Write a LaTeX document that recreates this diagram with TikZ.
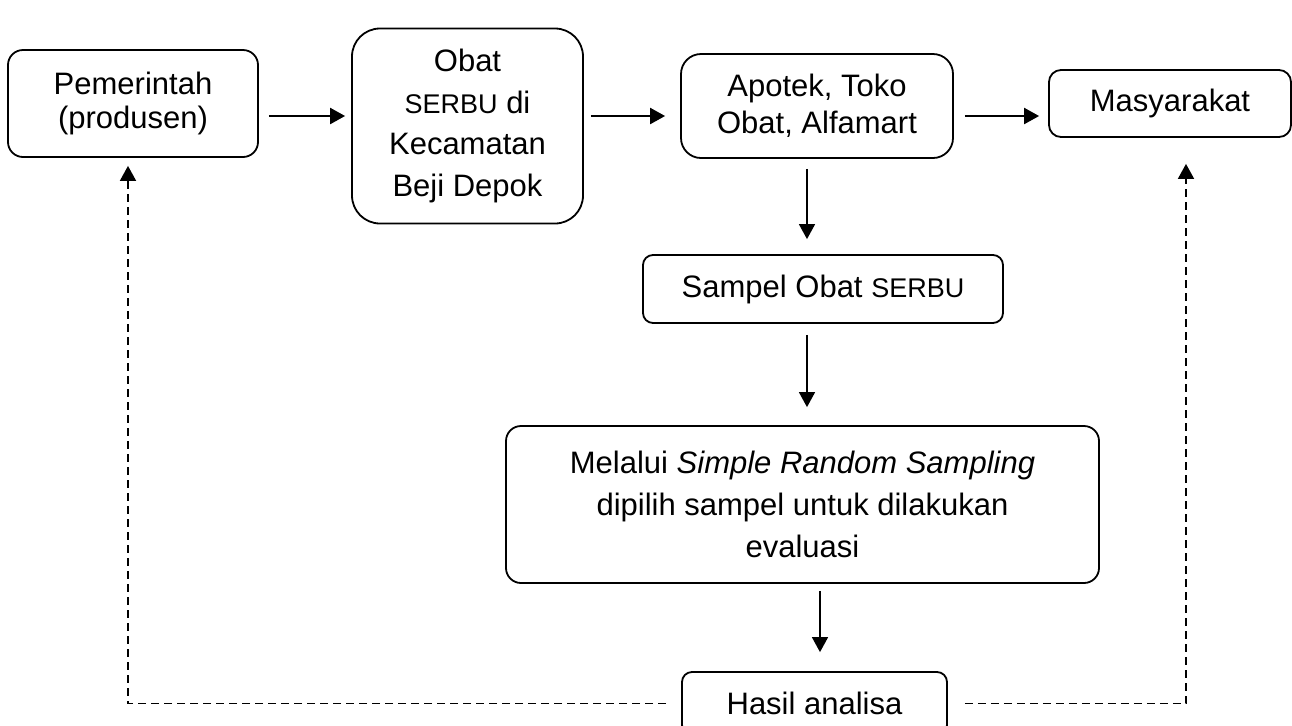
\documentclass[tikz,border=0pt]{standalone}
\usepackage{fontspec}
\setmainfont{Liberation Sans}
\usetikzlibrary{arrows.meta, positioning}

\newcommand{\boxfont}[1]{\fontsize{15.5}{#1}\selectfont}
\newcommand{\serbu}{{\fontsize{13.5}{16}\selectfont SERBU}}

\tikzset{
  box/.style={draw, line width=0.9pt, align=center, inner sep=0pt},
  arr/.style={-{Triangle[length=7.5pt,width=8pt]}, line width=0.75pt,
    shorten <=5pt, shorten >=7pt},
  harr/.style={arr, line width=1.1pt},
  feedback/.style={-{Triangle[length=7.5pt,width=8pt]}, line width=0.9pt,
    dash pattern=on 4pt off 2.5pt}
}

\begin{document}
\begin{tikzpicture}[x=0.5pt, y=-0.5pt]
    \clip (0,0) rectangle (1292,725);

    % Top row
    \node[box, rounded corners=7.5pt, minimum width=125pt, minimum height=53.5pt,
      font=\boxfont{17}] (pem) at (133,103.5) {Pemerintah\\(produsen)};
    \node[box, rounded corners=14pt, minimum width=115.5pt, minimum height=97.5pt,
      font=\boxfont{20.8}] (obat) at (467.5,126) {Obat\\\serbu{} di\\Kecamatan\\Beji Depok};
    \node[box, rounded corners=10pt, minimum width=136pt, minimum height=52pt,
      font=\boxfont{18.3}] (apotek) at (817,106) {Apotek, Toko\\Obat, Alfamart};
    \node[box, rounded corners=6pt, minimum width=121pt, minimum height=33.5pt,
      font=\boxfont{18}] (masy) at (1170,103.5) {Masyarakat};

    % Sampling chain
    \node[box, rounded corners=5pt, minimum width=180pt, minimum height=34pt,
      font=\boxfont{18}] (sampel) at (823,289) {Sampel Obat \serbu};
    \node[box, rounded corners=7.5pt, minimum width=296.5pt, minimum height=78.5pt,
      font=\boxfont{21.2}] (srs) at (802.5,504.5)
      {Melalui \textit{Simple Random Sampling}\\dipilih sampel untuk dilakukan\\evaluasi};
    \node[box, rounded corners=5pt, minimum width=132.5pt, minimum height=31.5pt,
      font=\boxfont{18}] (hasil) at (814.5,703.5) {Hasil analisa};

    % Helper lines for the connectors
    \coordinate (row) at (0,116);
    \coordinate (colA) at (807,0);
    \coordinate (colB) at (820,0);

    % Flow
    \draw[harr, shorten >=3pt] (pem.east |- row) -- (obat.west |- row);
    \draw[harr, shorten <=3.5pt, shorten >=7.5pt] (obat.east |- row) -- (apotek.west |- row);
    \draw[harr, shorten <=5.5pt, shorten >=4.5pt] (apotek.east |- row) -- (masy.west |- row);
    \draw[arr, shorten >=7.5pt] (apotek.south -| colA) -- (sampel.north -| colA);
    \draw[arr, shorten <=5.5pt, shorten >=9pt] (sampel.south -| colA) -- (srs.north -| colA);
    \draw[arr, shorten <=3.5pt, shorten >=9.5pt] (srs.south -| colB) -- (hasil.north -| colB);

    % Feedback from the results
    \draw[feedback, shorten <=7.5pt, shorten >=4pt] (hasil.west) -| ([xshift=-2.5pt]pem.south);
    \draw[feedback, shorten <=8.5pt, shorten >=13pt] (hasil.east) -| ([xshift=8pt]masy.south);
\end{tikzpicture}
\end{document}
